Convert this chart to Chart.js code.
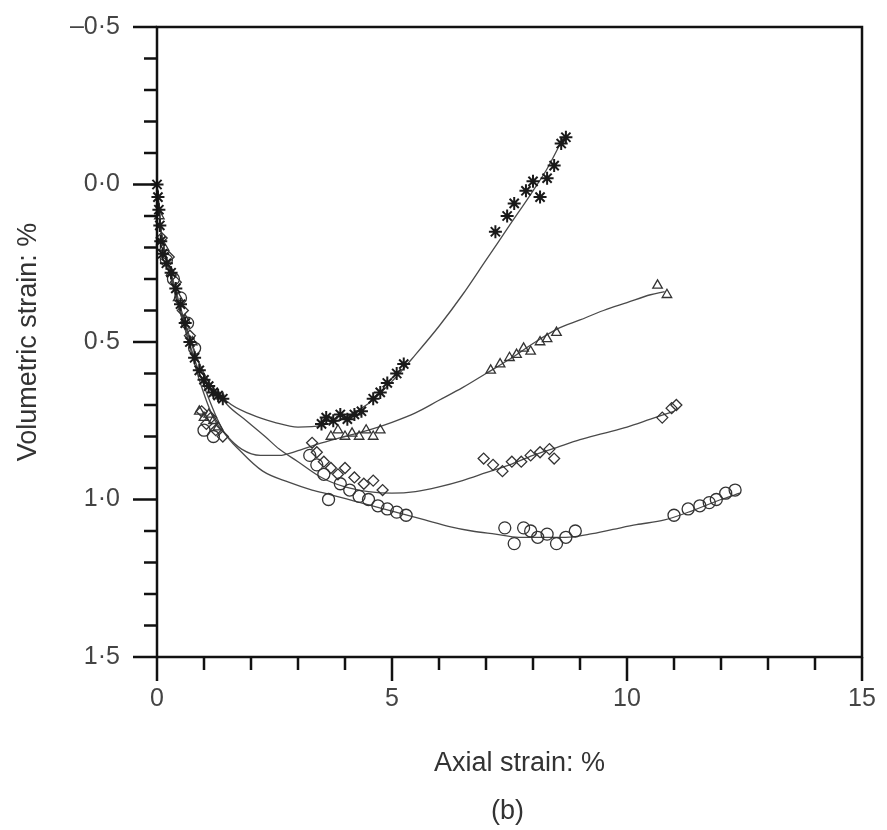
<!DOCTYPE html>
<html>
<head>
<meta charset="utf-8">
<script src="https://cdn.jsdelivr.net/npm/chart.js@4/dist/chart.umd.min.js"></script>
<style>
  body { margin: 0; background: #fff; }
  #VolCha { display: block; }
</style>
</head>
<body>
<canvas id="VolCha" width="887" height="830"></canvas>
<script>
const starX = [0, 0.02, 0.04, 0.06, 0.08, 0.12, 0.2, 0.3, 0.4, 0.5, 0.6, 0.7, 0.8, 0.9, 1.0, 1.1, 1.2, 1.3, 1.4,
  3.5, 3.6, 3.75, 3.9, 4.05, 4.2, 4.35, 4.6, 4.75, 4.9, 5.1, 5.25,
  7.2, 7.45, 7.6, 7.85, 8.0, 8.15, 8.3, 8.45, 8.6, 8.7];
const starY = [0, 0.04, 0.08, 0.13, 0.18, 0.22, 0.25, 0.28, 0.33, 0.38, 0.44, 0.5, 0.55, 0.59, 0.62, 0.64, 0.66, 0.67, 0.68,
  0.76, 0.74, 0.75, 0.73, 0.745, 0.73, 0.72, 0.68, 0.66, 0.63, 0.6, 0.57,
  0.15, 0.1, 0.06, 0.02, -0.01, 0.04, -0.02, -0.06, -0.13, -0.15];

const triX = [0.05, 0.15, 0.3, 0.45, 0.6, 0.75, 0.9, 1.0, 1.1, 1.2, 1.3,
  3.7, 3.85, 4.0, 4.15, 4.3, 4.45, 4.6, 4.75,
  7.1, 7.3, 7.5, 7.65, 7.8, 7.95, 8.15, 8.3, 8.5,
  10.65, 10.85];
const triY = [0.1, 0.2, 0.28, 0.36, 0.43, 0.5, 0.72, 0.74, 0.73, 0.75, 0.77,
  0.8, 0.78, 0.8, 0.79, 0.8, 0.78, 0.8, 0.78,
  0.59, 0.57, 0.55, 0.54, 0.52, 0.53, 0.5, 0.49, 0.47,
  0.32, 0.35];

const diaX = [0.1, 0.25, 0.4, 0.55, 0.7, 0.95, 1.05, 1.15, 1.25, 1.4,
  3.3, 3.4, 3.55, 3.7, 3.85, 4.0, 4.2, 4.4, 4.6, 4.8,
  6.95, 7.15, 7.35, 7.55, 7.75, 7.95, 8.15, 8.35, 8.45,
  10.75, 10.95, 11.05];
const diaY = [0.17, 0.23, 0.31, 0.4, 0.48, 0.72, 0.76, 0.74, 0.78, 0.8,
  0.82, 0.85, 0.88, 0.9, 0.92, 0.9, 0.93, 0.95, 0.94, 0.97,
  0.87, 0.89, 0.91, 0.88, 0.88, 0.86, 0.85, 0.84, 0.87,
  0.74, 0.71, 0.7];

const circX = [0.2, 0.35, 0.5, 0.65, 0.8, 1.0, 1.2,
  3.25, 3.4, 3.55, 3.65, 3.9, 4.1, 4.3, 4.5, 4.7, 4.9, 5.1, 5.3,
  7.4, 7.6, 7.8, 7.95, 8.1, 8.3, 8.5, 8.7, 8.9,
  11.0, 11.3, 11.55, 11.75, 11.9, 12.1, 12.3];
const circY = [0.24, 0.3, 0.36, 0.44, 0.52, 0.78, 0.8,
  0.86, 0.89, 0.92, 1.0, 0.95, 0.97, 0.99, 1.0, 1.02, 1.03, 1.04, 1.05,
  1.09, 1.14, 1.09, 1.1, 1.12, 1.11, 1.14, 1.12, 1.1,
  1.05, 1.03, 1.02, 1.01, 1.0, 0.98, 0.97];

// fitted curves drawn through each set
const starCurveX = [0, 0.1, 0.3, 0.6, 1, 1.5, 2, 2.5, 3, 3.5, 4, 4.5, 5, 5.5, 6, 6.5, 7, 7.5, 8, 8.3, 8.65];
const starCurveY = [0, 0.16, 0.28, 0.44, 0.6, 0.69, 0.73, 0.755, 0.77, 0.765, 0.74, 0.695, 0.625, 0.54, 0.45, 0.35, 0.24, 0.13, 0.02, -0.05, -0.15];

const triCurveX = [0, 0.1, 0.3, 0.6, 0.9, 1.2, 1.5, 1.8, 2.2, 2.6, 3, 3.4, 4, 4.5, 5, 5.5, 6, 6.5, 7, 7.5, 8, 8.5, 9, 9.5, 10, 10.5, 10.8];
const triCurveY = [0, 0.16, 0.29, 0.46, 0.62, 0.74, 0.8, 0.84, 0.86, 0.86, 0.845, 0.825, 0.8, 0.78, 0.755, 0.725, 0.685, 0.645, 0.6, 0.555, 0.505, 0.46, 0.43, 0.4, 0.375, 0.35, 0.34];

const diaCurveX = [0, 0.1, 0.3, 0.6, 1, 1.5, 1.9, 2.3, 2.6, 3, 3.5, 4, 4.5, 5, 5.5, 6, 6.5, 7, 7.5, 8, 8.5, 9, 9.5, 10, 10.5, 11];
const diaCurveY = [0, 0.16, 0.29, 0.45, 0.6, 0.7, 0.75, 0.8, 0.84, 0.88, 0.93, 0.96, 0.975, 0.98, 0.975, 0.96, 0.94, 0.915, 0.89, 0.86, 0.835, 0.81, 0.79, 0.77, 0.745, 0.72];

const circCurveX = [0, 0.1, 0.3, 0.6, 1, 1.4, 1.8, 2.25, 2.8, 3.3, 3.7, 4.2, 4.7, 5.2, 5.7, 6.2, 6.7, 7.2, 7.7, 8.2, 8.7, 9.2, 9.7, 10.2, 10.8, 11.4, 12, 12.4];
const circCurveY = [0, 0.16, 0.3, 0.46, 0.64, 0.78, 0.85, 0.91, 0.945, 0.97, 0.985, 1.005, 1.025, 1.045, 1.065, 1.085, 1.1, 1.11, 1.12, 1.12, 1.12, 1.11, 1.095, 1.08, 1.065, 1.035, 1.0, 0.98];

const xTicks = [0, 5, 10, 15];
const yTicks = [-0.5, 0, 0.5, 1, 1.5];
const yTickLabels = ['\u20130\u00b75', '0\u00b70', '0\u00b75', '1\u00b70', '1\u00b75'];

const xTitle = 'Axial strain: %';
const yTitle = 'Volumetric strain: %';
const panelTag = '(b)';

const FONT = '"Liberation Sans", Arial, sans-serif';

function zip(xs, ys) {
    return xs.map((x, i) => ({ x: x, y: ys[i] }));
}

function curve(xs, ys) {
    return {
        data: zip(xs, ys),
        showLine: true,
        borderColor: '#4a4a4a',
        borderWidth: 1.3,
        pointRadius: 0,
        tension: 0.4,
        cubicInterpolationMode: 'monotone',
        fill: false,
        order: 2
    };
}

function marks(xs, ys, style, radius, width, color) {
    return {
        data: zip(xs, ys),
        showLine: false,
        pointStyle: style,
        pointRadius: radius,
        borderColor: color,
        backgroundColor: 'rgba(0,0,0,0)',
        pointBorderWidth: width,
        clip: false,
        order: 1
    };
}

// axis frame, tick marks and titles, like the printed figure
const frameTicks = {
    id: 'frameTicks',
    afterDraw(chart) {
        const { ctx, chartArea: a, scales: { x, y } } = chart;
        ctx.save();
        ctx.strokeStyle = '#111';
        ctx.lineWidth = 2.5;
        ctx.strokeRect(a.left, a.top, a.right - a.left, a.bottom - a.top);

        ctx.beginPath();
        for (let v = 0; v <= 15; v++) {
            const px = x.getPixelForValue(v);
            const len = v % 5 === 0 ? 24 : 13;
            ctx.moveTo(px, a.bottom);
            ctx.lineTo(px, a.bottom + len);
        }
        for (let i = 0; i <= 20; i++) {
            const py = y.getPixelForValue(-0.5 + i * 0.1);
            const len = i % 5 === 0 ? 24 : 13;
            ctx.moveTo(a.left, py);
            ctx.lineTo(a.left - len, py);
        }
        ctx.stroke();

        ctx.fillStyle = '#333';
        ctx.font = '27px ' + FONT;
        ctx.textAlign = 'center';
        ctx.textBaseline = 'middle';
        ctx.fillText(xTitle, (a.left + a.right) / 2 + 10, 764);
        ctx.fillText(panelTag, (a.left + a.right) / 2 - 2, 812);

        ctx.translate(29, (a.top + a.bottom) / 2);
        ctx.rotate(-Math.PI / 2);
        ctx.fillText(yTitle, 0, 0);
        ctx.restore();
    }
};

const ctx = document.getElementById('VolCha').getContext('2d');

new Chart(ctx, {
    type: 'scatter',
    data: {
        datasets: [
            curve(starCurveX, starCurveY),
            curve(triCurveX, triCurveY),
            curve(diaCurveX, diaCurveY),
            curve(circCurveX, circCurveY),
            marks(starX, starY, 'star', 6.5, 2, '#1a1a1a'),
            marks(triX, triY, 'triangle', 5.5, 1.3, '#333'),
            marks(diaX, diaY, 'rectRot', 5.5, 1.3, '#333'),
            marks(circX, circY, 'circle', 6, 1.3, '#333')
        ]
    },
    options: {
        responsive: false,
        animation: false,
        layout: { padding: { top: 27, right: 25, left: 0, bottom: 0 } },
        plugins: {
            legend: { display: false },
            tooltip: { enabled: false }
        },
        scales: {
            x: {
                type: 'linear',
                min: 0,
                max: 15,
                afterBuildTicks: (scale) => { scale.ticks = xTicks.map(v => ({ value: v })); },
                afterFit: (scale) => {
                    scale.height = 830 - 657;
                    scale.paddingLeft = 0;
                    scale.paddingRight = 0;
                },
                ticks: {
                    color: '#444',
                    font: { size: 25, family: FONT },
                    padding: 27,
                    maxRotation: 0,
                    callback: (v) => String(v)
                },
                grid: { display: false, drawTicks: false },
                border: { display: false }
            },
            y: {
                type: 'linear',
                min: -0.5,
                max: 1.5,
                reverse: true,
                afterBuildTicks: (scale) => { scale.ticks = yTicks.map(v => ({ value: v })); },
                afterFit: (scale) => {
                    scale.width = 157;
                    scale.paddingTop = 0;
                    scale.paddingBottom = 0;
                },
                ticks: {
                    color: '#444',
                    font: { size: 25, family: FONT },
                    padding: 37,
                    callback: (v) => {
                        const i = yTicks.findIndex(t => Math.abs(t - v) < 1e-9);
                        return i >= 0 ? yTickLabels[i] : '';
                    }
                },
                grid: { display: false, drawTicks: false },
                border: { display: false }
            }
        }
    },
    plugins: [frameTicks]
});
</script>
</body>
</html>
